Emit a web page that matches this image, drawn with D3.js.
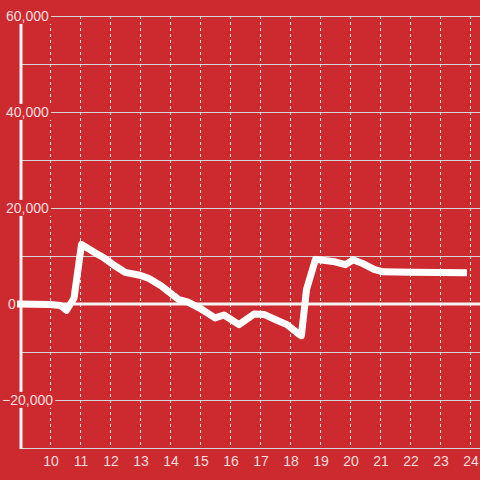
<!DOCTYPE html>
<meta charset="utf-8">
<style>
  body { margin: 0; background: #cc2a2f; }
  text { font-family: "Liberation Sans", Arial, sans-serif; font-size: 14px; fill: #f6dede; }
</style>
<body>
<script src="https://d3js.org/d3.v7.min.js"></script>
<script>
// hour of day vs. value
var hours  = [8.9, 10.0, 10.35, 10.55, 10.8, 11.05, 11.5, 11.75, 12.2, 12.5, 13.0, 13.3, 13.7, 14.3, 14.6, 15.0, 15.5, 15.8, 16.3, 16.8, 17.15, 17.6, 17.9, 18.3, 18.38, 18.55, 18.85, 19.5, 19.85, 20.1, 20.4, 20.8, 21.1, 22.0, 23.9];
var values = [0, -100, -300, -1300, 1200, 12400, 10700, 9800, 7800, 6600, 6000, 5300, 3800, 900, 400, -900, -2900, -2300, -4300, -2100, -2200, -3500, -4300, -6300, -6600, 3000, 9300, 8800, 8200, 9200, 8500, 7200, 6700, 6600, 6500];
var xTicks = [10, 11, 12, 13, 14, 15, 16, 17, 18, 19, 20, 21, 22, 23, 24];
var yGrid  = [-20000, -10000, 10000, 20000, 30000, 40000, 50000, 60000];
var yLabels = [60000, 40000, 20000, 0, -20000];

var width = 480, height = 480;
var bg = "#cc2a2f";

var x = d3.scaleLinear().domain([9, 24]).range([20, 470]);
var y = d3.scaleLinear().domain([-30000, 60000]).range([448, 16]);

var svg = d3.select("body").append("svg")
    .attr("width", width)
    .attr("height", height);

svg.append("rect").attr("width", width).attr("height", height).attr("fill", bg);

// horizontal grid
svg.append("g").selectAll("line")
  .data(yGrid)
  .join("line")
    .attr("x1", 21).attr("x2", width)
    .attr("y1", d => y(d) + 0.5).attr("y2", d => y(d) + 0.5)
    .attr("stroke", "#d6d6d6")
    .attr("stroke-width", 1);

// vertical dashed grid
svg.append("g").selectAll("line")
  .data(xTicks)
  .join("line")
    .attr("x1", d => Math.round(x(d)) + 0.5).attr("x2", d => Math.round(x(d)) + 0.5)
    .attr("y1", 16).attr("y2", 448)
    .attr("stroke", "#e6e6e6")
    .attr("stroke-dasharray", "3,3")
    .attr("stroke-dashoffset", -6);

// bottom axis line
svg.append("line")
  .attr("x1", 21).attr("x2", width)
  .attr("y1", 448.5).attr("y2", 448.5)
  .attr("stroke", "#d6d6d6");

// zero line
svg.append("line")
  .attr("x1", 21).attr("x2", width)
  .attr("y1", y(0)).attr("y2", y(0))
  .attr("stroke", "#f4f4f4")
  .attr("stroke-width", 3);

// y axis
svg.append("line")
  .attr("x1", 21).attr("x2", 21)
  .attr("y1", 16).attr("y2", 449)
  .attr("stroke", "#f4f4f4")
  .attr("stroke-width", 3);

// y labels with background
var yl = svg.append("g").selectAll("g")
  .data(yLabels)
  .join("g")
    .attr("transform", d => `translate(${d < 0 ? 2 : (d === 0 ? 8 : 6)},${y(d)})`);

yl.append("text")
    .attr("dy", "0.35em")
    .text(d3.format(","));

yl.each(function() {
  var g = d3.select(this);
  var b = g.select("text").node().getBBox();
  g.insert("rect", "text")
    .attr("x", b.x - 2).attr("y", b.y)
    .attr("width", b.width + 4).attr("height", b.height)
    .attr("fill", bg);
});

// x labels
svg.append("g").selectAll("text")
  .data(xTicks)
  .join("text")
    .attr("x", d => x(d) + 1)
    .attr("y", 466)
    .attr("text-anchor", "middle")
    .text(d => d);

// data line
var line = d3.line()
    .x(d => x(d[0]))
    .y(d => y(d[1]));

svg.append("path")
  .datum(hours.map((h, i) => [h, values[i]]))
  .attr("d", line)
  .attr("fill", "none")
  .attr("stroke", "#ffffff")
  .attr("stroke-width", 7)
  .attr("stroke-linejoin", "round");
</script>
</body>
</html>
